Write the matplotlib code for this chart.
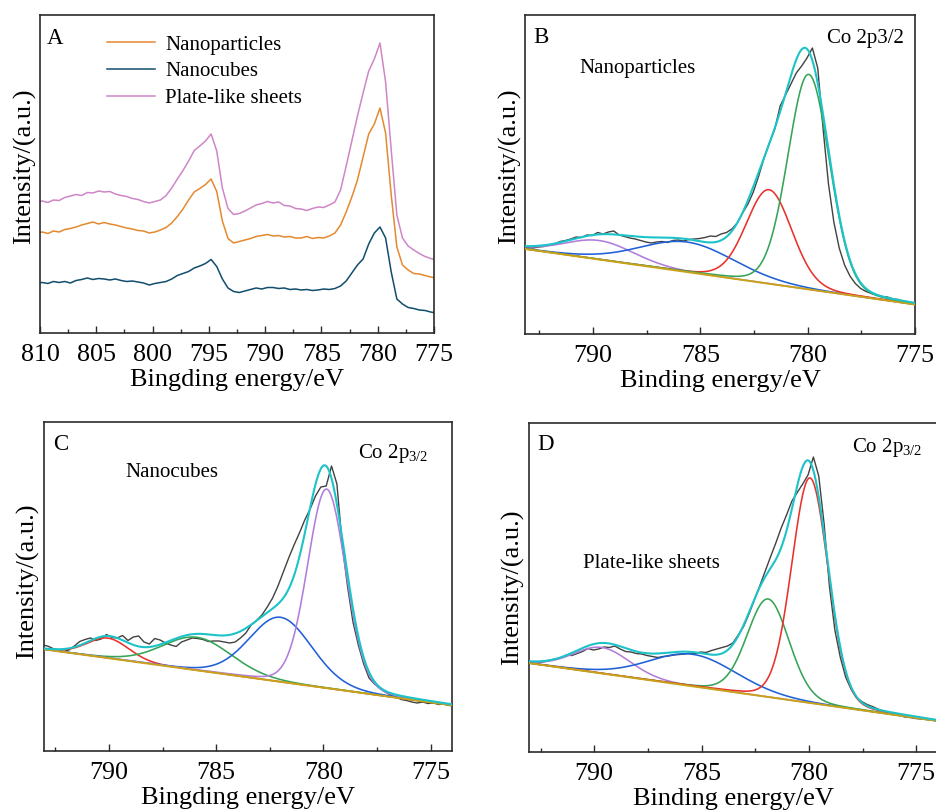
import numpy as np
import matplotlib
matplotlib.use("Agg")
import matplotlib.pyplot as plt
from matplotlib.ticker import MultipleLocator, FormatStrFormatter

plt.rcParams["font.family"] = ["Liberation Serif", "DejaVu Serif"]
plt.rcParams["mathtext.fontset"] = "custom"
plt.rcParams["mathtext.rm"] = "Liberation Serif"
plt.rcParams["mathtext.it"] = "Liberation Serif:italic"

# ---------------- Panel A: Co 2p spectra of the three morphologies ----------------
survey_energy = np.linspace(810.3, 774.8, 72)
survey_labels = ["Nanoparticles", "Nanocubes", "Plate-like sheets"]
survey_colors = ["#e5892f", "#114d6c", "#cf86c6"]
nanoparticles = [
    100, 101, 99.5, 102, 101, 103.5, 104.5, 106, 108, 109.5,
    111, 109, 110.5, 109, 108, 106.5, 105, 104, 102.5, 102,
    100, 101, 103, 105.5, 110, 116.5, 124, 133, 141, 144.5,
    148.5, 154, 141.5, 112, 94.5, 90, 91.5, 93, 94.5, 96.5,
    97.5, 98.5, 97, 97.5, 96, 96.5, 95, 95, 96.5, 94.5,
    95.5, 95, 97, 100, 108, 121, 136, 153, 176, 199,
    209, 225, 200, 138, 86, 68, 63, 59.5, 59, 57.5,
    56, 55]
nanocubes = [
    50, 50.5, 49.5, 51.5, 50.5, 51.5, 50, 52.5, 53.5, 55,
    53.5, 54.5, 54, 53, 54, 52.5, 51.5, 52, 51, 50,
    48, 49.5, 50.5, 51.5, 54, 57.5, 59.5, 61.5, 65, 67,
    69.5, 73.5, 66.5, 54, 45, 41.5, 40.5, 42, 43.5, 45,
    44, 45.5, 45.5, 44.5, 45, 43.5, 44, 43, 43.5, 42.5,
    43, 44, 43.5, 44.5, 47, 52, 60, 68, 74, 89,
    100, 106, 95, 61, 34, 29, 25.5, 24.5, 23, 22.5,
    21, 20]
plate_sheets = [
    131, 132, 130.5, 133, 132.5, 135.5, 137, 138.5, 137.5, 140.5,
    140, 142, 141, 141.5, 139, 137.5, 136.5, 134.5, 133.5, 131.5,
    130, 131.5, 133, 137.5, 145, 154, 162.5, 172, 182.5, 187,
    192, 199, 182, 145, 124.5, 118.5, 119.5, 122, 125, 128,
    129.5, 131.5, 130, 131, 127.5, 127, 124.5, 124, 122.5, 124.5,
    126, 125.5, 128, 131, 143, 167, 192, 217, 240, 262,
    274, 290, 251, 183, 118, 95, 87, 83, 79.5, 76.5,
    74.5, 73]

# ---------------- Panels B-D: Co 2p3/2 fits ----------------
GRAY, ENVELOPE, BACKGROUND = "#424242", "#1cc3c8", "#c9a21a"
RED, GREEN, BLUE, PURPLE = "#e8322b", "#35a457", "#1f60d8", "#b07ddb"

# Nanoparticles
B_window = (793.15, 775.0)
B_energy = np.linspace(793.28, 774.78, 75)
B_counts = [
    87, 86.5, 86, 87, 87.5, 89, 90, 92.5, 93.5, 95,
    97, 96.5, 99, 98.5, 101.5, 100, 102, 103, 99, 97.5,
    96, 95, 93.5, 92, 91, 92, 92.5, 91.5, 93.5, 94,
    93, 94.5, 95, 95.5, 96.5, 98, 97.5, 100, 101.5, 105,
    111, 121, 130, 142, 158, 176, 191, 205, 228, 239,
    250, 261, 268, 276, 286, 266, 205, 150, 112, 86,
    69, 58, 50.5, 45.5, 42.5, 40.5, 39, 37.5, 37, 35,
    34.5, 32.5, 32, 30.5, 30]
B_background = (85.0, 29.5)
B_centers = [789.7, 785.6, 781.8, 779.95]
B_heights = [19, 30, 94, 215]
B_fwhm = [3.8, 5.2, 2.5, 2.3]
B_colors = [PURPLE, BLUE, RED, GREEN]

# Nanocubes
C_window = (793.05, 774.0)
C_energy = np.linspace(793.12, 773.87, 78)
C_counts = [
    106, 105, 102.5, 101, 99.5, 101, 105, 109.5, 111.5, 113,
    110.5, 112, 116.5, 113.5, 113, 115.5, 110.5, 114, 115, 109,
    107, 112.5, 111, 108, 106, 104.5, 109, 111, 113, 112.5,
    111.5, 109.5, 110, 110, 109, 108, 109, 113, 118, 126,
    130.5, 136, 144, 153, 165, 179, 193, 206, 218, 231,
    242, 255, 264, 265, 285, 267, 206, 164, 129, 106,
    87, 73, 67, 63, 59, 56, 54, 51.5, 50.5, 49,
    48, 49, 47.5, 48, 46.5, 47, 45.5, 45]
C_background = (101.7, 45.7)
C_centers = [790.05, 785.9, 782.0, 779.85]
C_heights = [20, 33, 64.5, 199]
C_fwhm = [2.3, 3.8, 3.45, 2.1]
C_colors = [RED, GREEN, BLUE, PURPLE]

# Plate-like sheets
D_window = (793.05, 774.0)
D_energy = np.linspace(793.29, 773.79, 79)
D_counts = [
    88.5, 89, 90.5, 89.5, 90.5, 92, 93, 94.5, 97, 96.5,
    98.5, 100.5, 103.5, 102, 103, 105, 104.5, 106, 103, 100.5,
    100, 98.5, 98, 96.5, 95.5, 94.5, 95.5, 96, 97, 97.5,
    98, 99, 98.5, 100, 99.5, 101.5, 103, 104.5, 106, 109,
    117, 125.5, 138, 152, 166, 180.5, 195, 209, 224, 237,
    251, 259.5, 268, 277, 295, 276, 228, 165, 122, 95,
    75, 63, 54.5, 50.5, 47.5, 45.5, 43, 41, 39.5, 38,
    37, 35, 34.5, 33.5, 33, 32.5, 32.5, 31.5, 31]
D_background = (88.9, 31.0)
D_centers = [789.65, 785.4, 781.9, 779.95]
D_heights = [26, 32, 98, 225]
D_fwhm = [3.1, 4.8, 2.3, 2.0]
D_colors = [PURPLE, BLUE, GREEN, RED]


def pseudo_voigt(x, center, height, fwhm, eta=0.1):
    u = (x - center) / fwhm
    gauss = np.exp(-4.0 * np.log(2.0) * u ** 2)
    lorentz = 1.0 / (1.0 + 4.0 * u ** 2)
    return height * ((1.0 - eta) * gauss + eta * lorentz)


def style_axes(ax, window, ylim, xlabel, ylabel_pos):
    ax.set_xlim(*window)
    ax.set_ylim(*ylim)
    ax.xaxis.set_major_locator(MultipleLocator(5))
    ax.xaxis.set_minor_locator(MultipleLocator(2.5))
    ax.xaxis.set_major_formatter(FormatStrFormatter("%d"))
    ax.tick_params(axis="x", which="both", direction="in", top=False,
                   labelsize=18.7, pad=8, color="#2b2b2b")
    ax.tick_params(axis="x", which="major", length=5, width=1)
    ax.tick_params(axis="x", which="minor", length=3, width=1)
    ax.tick_params(axis="y", which="both", left=False, labelleft=False)
    ax.set_xlabel(xlabel, fontsize=19, labelpad=2)
    ax.set_ylabel("Intensity/(a.u.)", fontsize=19)
    ax.yaxis.set_label_coords(*ylabel_pos)
    for sp in ax.spines.values():
        sp.set_color("#2b2b2b")
        sp.set_linewidth(1.2)


def draw_fit(ax, window, energy, counts, background, centers, heights, fwhm, colors):
    grid = np.linspace(window[0], window[1], 900)
    base = np.interp(grid, [window[1], window[0]], [background[1], background[0]])
    ax.plot(energy, counts, color=GRAY, lw=1.0, zorder=2)
    total = base.copy()
    for c, h, f, col in zip(centers, heights, fwhm, colors):
        comp = pseudo_voigt(grid, c, h, f)
        total += comp
        ax.plot(grid, base + comp, color=col, lw=1.15, zorder=3)
    ax.plot(grid, base, color=BACKGROUND, lw=1.4, zorder=3.5)
    ax.plot(grid, total, color=ENVELOPE, lw=1.5, zorder=4)


fig = plt.figure(figsize=(9.36, 8.11), dpi=100)
axA = fig.add_axes([0.04274, 0.58940, 0.42094, 0.39211])
axB = fig.add_axes([0.56122, 0.58779, 0.41635, 0.39371])
axC = fig.add_axes([0.04669, 0.07435, 0.43622, 0.40493])
axD = fig.add_axes([0.56485, 0.07312, 0.43697, 0.40493])

# Panel A
for series, label, color in zip([nanoparticles, nanocubes, plate_sheets], survey_labels, survey_colors):
    axA.plot(survey_energy, series, color=color, lw=1.1, label=label)
style_axes(axA, (810, 775), (0, 318), "Bingding energy/eV", (-0.010, 0.525))
axA.legend(loc="upper left", bbox_to_anchor=(0.17, 0.937), frameon=False, fontsize=15,
           handlelength=2.3, handletextpad=0.5, labelspacing=0.34,
           borderaxespad=0, borderpad=0)
axA.text(0.018, 0.909, "A", transform=axA.transAxes, fontsize=16.5, va="baseline")

# Panel B
draw_fit(axB, B_window, B_energy, B_counts, B_background, B_centers, B_heights, B_fwhm, B_colors)
style_axes(axB, B_window, (-0.3, 319), "Binding energy/eV", (-0.010, 0.525))
axB.text(0.020, 0.912, "B", transform=axB.transAxes, fontsize=16.5, va="baseline")
axB.text(0.138, 0.818, "Nanoparticles", transform=axB.transAxes, fontsize=15, va="baseline")
axB.text(0.774, 0.911, "Co 2p3/2", transform=axB.transAxes, fontsize=15, va="baseline")

# Panel C
draw_fit(axC, C_window, C_energy, C_counts, C_background, C_centers, C_heights, C_fwhm, C_colors)
style_axes(axC, C_window, (0.3, 328.7), "Bingding energy/eV", (-0.012, 0.515))
axC.text(0.023, 0.916, "C", transform=axC.transAxes, fontsize=16.5, va="baseline")
axC.text(0.199, 0.833, "Nanocubes", transform=axC.transAxes, fontsize=15, va="baseline")
axC.text(0.770, 0.891, r"Co 2p$_{\mathregular{3/2}}$", transform=axC.transAxes, fontsize=15, va="baseline")

# Panel D
draw_fit(axD, D_window, D_energy, D_counts, D_background, D_centers, D_heights, D_fwhm, D_colors)
style_axes(axD, D_window, (0.3, 328.7), "Binding energy/eV", (-0.012, 0.5))
axD.text(0.020, 0.919, "D", transform=axD.transAxes, fontsize=16.5, va="baseline")
axD.text(0.133, 0.559, "Plate-like sheets", transform=axD.transAxes, fontsize=15, va="baseline")
axD.text(0.790, 0.913, r"Co 2p$_{\mathregular{3/2}}$", transform=axD.transAxes, fontsize=15, va="baseline")

fig.savefig("out.png", dpi=100)
